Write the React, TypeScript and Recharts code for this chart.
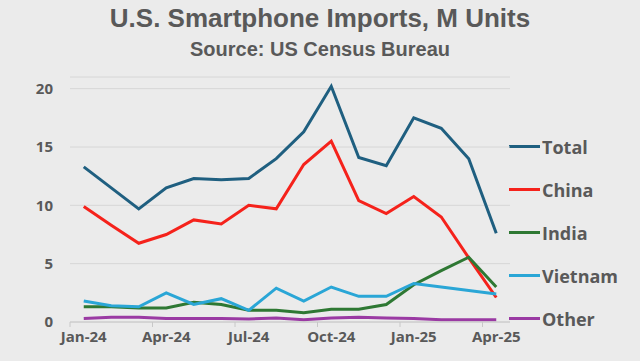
import React from 'react';
import { LineChart, Line, XAxis, YAxis, CartesianGrid } from 'recharts';

const months = ['Jan-24', 'Feb-24', 'Mar-24', 'Apr-24', 'May-24', 'Jun-24', 'Jul-24', 'Aug-24',
  'Sep-24', 'Oct-24', 'Nov-24', 'Dec-24', 'Jan-25', 'Feb-25', 'Mar-25', 'Apr-25'];
const total = [13.3, 11.5, 9.7, 11.5, 12.3, 12.2, 12.3, 14.0, 16.3, 20.2, 14.1, 13.4, 17.5, 16.6, 14.0, 7.6];
const china = [9.9, 8.3, 6.75, 7.5, 8.75, 8.4, 10.0, 9.7, 13.5, 15.5, 10.4, 9.3, 10.75, 9.0, 5.5, 2.1];
const india = [1.3, 1.3, 1.2, 1.2, 1.7, 1.5, 1.0, 1.0, 0.8, 1.1, 1.1, 1.5, 3.2, 4.4, 5.55, 3.0];
const vietnam = [1.8, 1.4, 1.3, 2.5, 1.5, 2.0, 1.0, 2.9, 1.8, 3.0, 2.2, 2.2, 3.3, 3.0, 2.7, 2.4];
const other = [0.3, 0.4, 0.4, 0.3, 0.3, 0.3, 0.25, 0.35, 0.2, 0.35, 0.4, 0.35, 0.3, 0.2, 0.2, 0.2];
const yTicks = [0, 5, 10, 15, 20];

const series = [
  { key: 'Total', values: total, color: '#1F5F80' },
  { key: 'China', values: china, color: '#F5221B' },
  { key: 'India', values: india, color: '#2E7833' },
  { key: 'Vietnam', values: vietnam, color: '#2AA6D6' },
  { key: 'Other', values: other, color: '#9A3AA3' },
];

const data = months.map((m, i) => {
  const row: any = { month: m };
  series.forEach((s) => { row[s.key] = s.values[i]; });
  return row;
});

const textColor = '#595959';
const tickFont = '"Open Sans", "Noto Sans", sans-serif';
const titleFont = '"Liberation Sans", Arial, sans-serif';

const XTick = (props: any) => {
  const { x, y, payload } = props;
  return (
    <g>
      <line x1={x - 13.75} x2={x - 13.75} y1={322} y2={327} stroke="#C8C8C8" />
      <text x={x} y={y + 12} textAnchor="middle" fill={textColor}
        style={{ fontFamily: tickFont, fontWeight: 700, fontSize: 15 }}>
        {payload.value}
      </text>
    </g>
  );
};

export default function App() {
  return (
    <div style={{ position: 'absolute', left: 0, top: 0, width: 640, height: 361, background: '#EBEBEB', overflow: 'hidden' }}>
      <div style={{ position: 'absolute', top: 3, width: 640, textAlign: 'center', fontFamily: titleFont, fontWeight: 700, fontSize: 26, color: textColor }}>
        U.S. Smartphone Imports, M Units
      </div>
      <div style={{ position: 'absolute', top: 38, width: 640, textAlign: 'center', fontFamily: titleFont, fontWeight: 700, fontSize: 20, color: textColor }}>
        Source: US Census Bureau
      </div>
      <div style={{ position: 'absolute', left: 509, top: 125 }}>
        {series.map((s) => (
          <div key={s.key} style={{ height: 43, display: 'flex', alignItems: 'center' }}>
            <div style={{ width: 31, height: 3, background: s.color }} />
            <span style={{ marginLeft: 2, fontFamily: tickFont, fontWeight: 700, fontSize: 18, color: textColor }}>
              {s.key}
            </span>
          </div>
        ))}
      </div>
      <LineChart width={640} height={361} data={data} margin={{ top: 77, right: 130, bottom: 9, left: 0 }}>
        <CartesianGrid vertical={false} stroke="#D6D6D6" />
        <XAxis dataKey="month" interval={2} tickLine={false} axisLine={{ stroke: '#C8C8C8' }}
          padding={{ left: 13.75, right: 13.75 }} height={30} tick={<XTick />} />
        <YAxis domain={[0, 21]} ticks={yTicks} width={70} axisLine={false} tickLine={false} tickMargin={11}
          tick={{ fill: textColor, fontFamily: tickFont, fontWeight: 700, fontSize: 15 }} />
        {series.map((s) => (
          <Line key={s.key} dataKey={s.key} stroke={s.color} strokeWidth={3} dot={false}
            isAnimationActive={false} />
        ))}
      </LineChart>
    </div>
  );
}
